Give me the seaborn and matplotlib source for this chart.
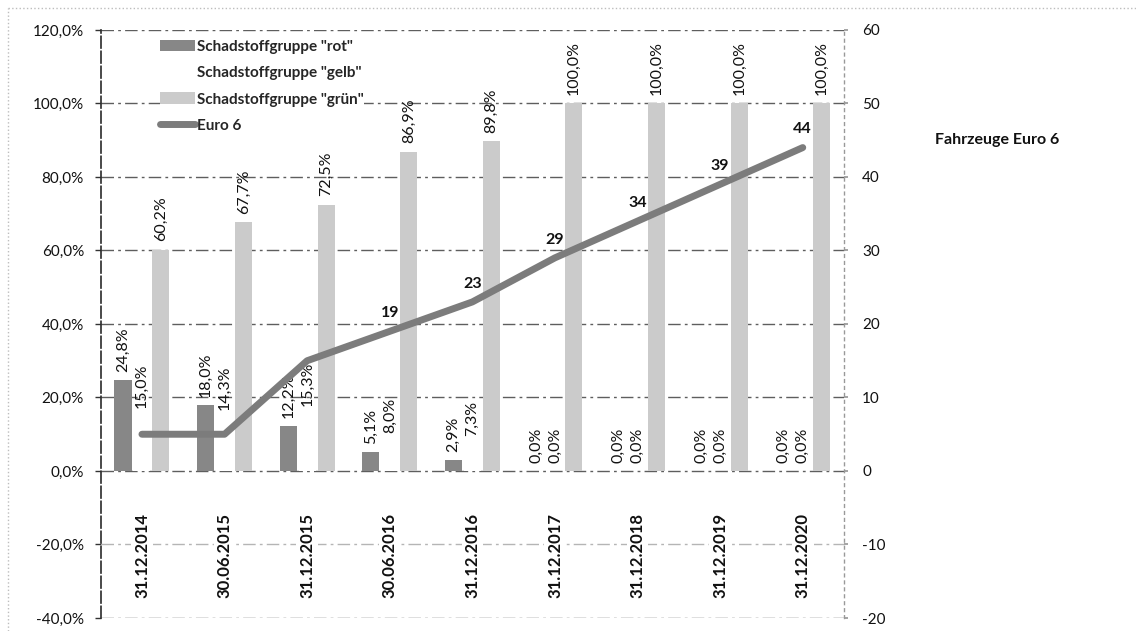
import numpy as np
import pandas as pd
import matplotlib
matplotlib.use("Agg")
import matplotlib.pyplot as plt
import seaborn as sns
from matplotlib.patches import Patch
from matplotlib.lines import Line2D
from matplotlib.ticker import FuncFormatter

# --- data -------------------------------------------------------------
dates = ["31.12.2014", "30.06.2015", "31.12.2015", "30.06.2016", "31.12.2016",
         "31.12.2017", "31.12.2018", "31.12.2019", "31.12.2020"]
rot = [24.8, 18.0, 12.2, 5.1, 2.9, 0.0, 0.0, 0.0, 0.0]
gelb = [15.0, 14.3, 15.3, 8.0, 7.3, 0.0, 0.0, 0.0, 0.0]
gruen = [60.2, 67.7, 72.5, 86.9, 89.8, 100.0, 100.0, 100.0, 100.0]
euro6 = [5, 5, 15, 19, 23, 29, 34, 39, 44]
euro6_labelled = [False, False, False, True, True, True, True, True, True]

groups = ['Schadstoffgruppe "rot"', 'Schadstoffgruppe "gelb"', 'Schadstoffgruppe "grün"']
line_name = "Euro 6"
side_title = "Fahrzeuge Euro 6"

left_ticks = list(range(-40, 121, 20))
right_ticks = list(range(-20, 61, 10))

# --- style ------------------------------------------------------------
sns.set_theme(style="white")
plt.rcParams["font.family"] = ["Lato", "DejaVu Sans"]

c_rot = "#878787"
c_gelb = "#ffffff"
c_gruen = "#cbcbcb"
c_line = "#7c7c7c"
grid_c = "#5e5e5e"


def pct(v):
    return f"{v:.1f}".replace(".", ",") + "%"


df = pd.DataFrame({
    "Datum": dates * 3,
    "Gruppe": [g for g in groups for _ in dates],
    "Anteil": rot + gelb + gruen,
})

fig = plt.figure(figsize=(11.36, 6.31), dpi=100)
ax = fig.add_axes([0.0886, 0.0206, 0.6544, 0.9319])

# horizontal grid lines
for v in left_ticks:
    ax.axhline(v, color=grid_c if v != -20 else "#b5b5b5",
               lw=1.0, ls=(0, (9, 3, 2, 3)), zorder=1)

sns.barplot(data=df, x="Datum", y="Anteil", hue="Gruppe", order=dates,
            hue_order=groups,
            palette={groups[0]: c_rot, groups[1]: c_gelb, groups[2]: c_gruen},
            width=0.69, gap=0.1, saturation=1, linewidth=0, legend=False,
            errorbar=None, ax=ax, zorder=2)

for cont, vals in zip(ax.containers, [rot, gelb, gruen]):
    ax.bar_label(cont, labels=[pct(v) for v in vals], rotation=90,
                 padding=6, fontsize=11.5, color="#111111")

ax.set_xlim(-0.5, len(dates) - 0.5)
ax.set_ylim(-40, 120)
ax.set_yticks(left_ticks)
ax.yaxis.set_major_formatter(FuncFormatter(lambda v, p: pct(v)))
ax.set_xticks([])
ax.set_xlabel("")
ax.set_ylabel("")
ax.tick_params(axis="y", labelsize=11, length=4, width=1, color="#333333",
               pad=8, left=True, labelcolor="#111111")

for s in ["top", "bottom", "right"]:
    ax.spines[s].set_visible(False)
ax.spines["left"].set_color("#2a2a2a")
ax.spines["left"].set_linewidth(1.2)
ax.spines["left"].set_linestyle((0, (7, 2)))

# date labels below the zero line
for i, d in enumerate(dates):
    ax.text(i, -23, d, rotation=90, ha="center", va="center",
            fontsize=12, fontweight="bold", color="#111111", zorder=3,
            bbox=dict(fc="white", ec="none", pad=2))

# secondary axis with the Euro 6 line
ax2 = ax.twinx()
sns.lineplot(x=np.arange(len(dates)), y=euro6, ax=ax2, color=c_line,
             linewidth=5, sort=False, legend=False)
for ln in ax2.lines:
    ln.set_solid_capstyle("round")
    ln.set_solid_joinstyle("round")
ax2.set_xlim(-0.5, len(dates) - 0.5)
ax2.set_ylim(-20, 60)
ax2.set_yticks(right_ticks)
ax2.yaxis.set_major_formatter(FuncFormatter(lambda v, p: f"{int(v)}"))
ax2.tick_params(axis="y", labelsize=11, length=3, color="#999999", pad=10,
                labelcolor="#111111")
ax2.set_ylabel("")
ax2.grid(False)
for s in ["top", "bottom", "left"]:
    ax2.spines[s].set_visible(False)
ax2.spines["right"].set_color("#999999")
ax2.spines["right"].set_linestyle((0, (2, 3)))
ax2.spines["right"].set_linewidth(1.0)

for i, (v, show) in enumerate(zip(euro6, euro6_labelled)):
    if show:
        ax2.annotate(str(v), (i, v), xytext=(0, 8), textcoords="offset points",
                     ha="center", va="bottom", fontsize=11.5, fontweight="bold",
                     color="#111111")

# legend
handles = [Patch(fc=c_rot, ec="none"), Patch(fc=c_gelb, ec="none"),
           Patch(fc=c_gruen, ec="none"),
           Line2D([], [], color=c_line, lw=5, solid_capstyle="round")]
leg = fig.legend(handles, groups + [line_name], loc="upper left",
                 bbox_to_anchor=(152 / 1136, 1 - 32 / 631),
                 frameon=True, facecolor="white", edgecolor="none", framealpha=1,
                 borderpad=0, handlelength=2.3, handleheight=0.8,
                 handletextpad=0.15, labelspacing=0.8,
                 prop={"weight": "bold", "size": 11})

fig.text(997 / 1136, 1 - 140 / 631, side_title, ha="center", va="center",
         fontsize=11.5, fontweight="bold", color="#111111")

# faint outer frame of the chart area
fig.add_artist(Line2D([8 / 1136, 1], [1 - 8 / 631, 1 - 8 / 631],
                      transform=fig.transFigure, color="#bdbdbd", lw=1, ls=":"))
fig.add_artist(Line2D([8 / 1136, 8 / 1136], [0, 1 - 8 / 631],
                      transform=fig.transFigure, color="#bdbdbd", lw=1, ls=":"))

fig.savefig("out.png", dpi=100, facecolor="white")
